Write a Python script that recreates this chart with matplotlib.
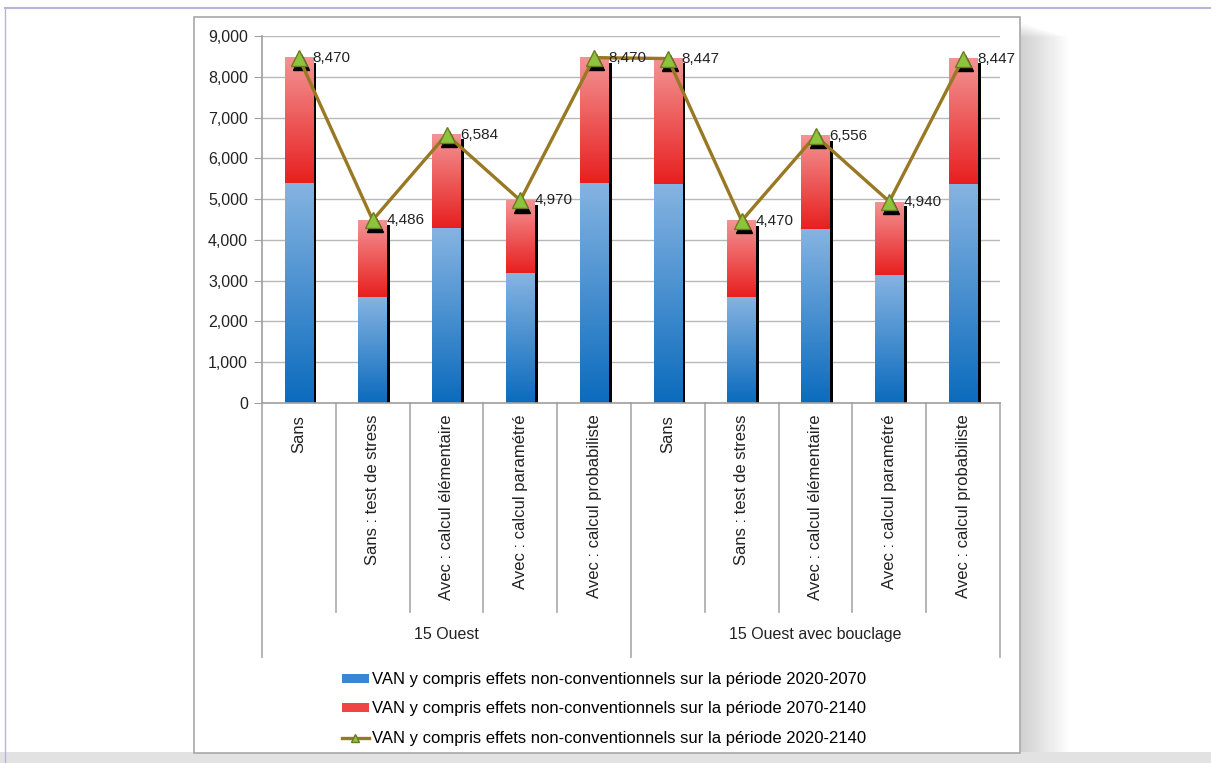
import numpy as np
import matplotlib
matplotlib.use("Agg")
import matplotlib.pyplot as plt
import matplotlib.transforms as mtransforms
from matplotlib.patches import Rectangle, Patch
from matplotlib.lines import Line2D
from matplotlib.colors import LinearSegmentedColormap

plt.rcParams['font.family'] = ['Liberation Sans', 'DejaVu Sans']

# données
categories = ["Sans", "Sans : test de stress", "Avec : calcul élémentaire",
              "Avec : calcul paramétré", "Avec : calcul probabiliste"] * 2
groups = ["15 Ouest", "15 Ouest avec bouclage"]
van_2020_2070 = [5400, 2600, 4280, 3180, 5400, 5370, 2600, 4260, 3150, 5370]
van_2020_2140 = [8470, 4486, 6584, 4970, 8470, 8447, 4470, 6556, 4940, 8447]
van_2070_2140 = [t - b for t, b in zip(van_2020_2140, van_2020_2070)]
yticks = [0, 1000, 2000, 3000, 4000, 5000, 6000, 7000, 8000, 9000]

lab1 = "VAN y compris effets non-conventionnels sur la période 2020-2070"
lab2 = "VAN y compris effets non-conventionnels sur la période 2070-2140"
lab3 = "VAN y compris effets non-conventionnels sur la période 2020-2140"

W, H = 1211, 763
fig = plt.figure(figsize=(W / 100, H / 100), dpi=100)
fig.patch.set_facecolor("white")

def fx(px):
    return px / W

def fy(py):
    return 1 - py / H

# cadre de page
fig.add_artist(Rectangle((0, 0), 1, fy(752), transform=fig.transFigure,
                         facecolor="#e2e2e2", edgecolor="none", zorder=0))
fig.add_artist(Rectangle((fx(5), fy(752)), 1, fy(8) - fy(752), transform=fig.transFigure,
                         facecolor="white", edgecolor="none", zorder=0))
fig.add_artist(Line2D([fx(5), 1], [fy(8), fy(8)], transform=fig.transFigure,
                      color="#b8b4d8", lw=1.5, zorder=1))
fig.add_artist(Line2D([fx(5), fx(5)], [fy(8), 0], transform=fig.transFigure,
                      color="#b8b4d8", lw=1.0, zorder=1))

# ombre douce et cadre du graphique
for i in range(24):
    d = 1 + i * 1.6
    fig.add_artist(Rectangle((fx(194 + d * 0.3), fy(752)), fx(1020 - 194 + d), fy(22 + d * 0.4) - fy(752),
                             transform=fig.transFigure, facecolor="black", alpha=0.008,
                             edgecolor="none", zorder=1))
fig.add_artist(Rectangle((fx(194), fy(753)), fx(1020 - 194), fy(17) - fy(753),
                         transform=fig.transFigure, facecolor="white",
                         edgecolor="#a8a8a8", lw=1.2, zorder=2))

ax = fig.add_axes([fx(262), fy(403), fx(1000 - 262), fy(36) - fy(403)], zorder=3)
ax.set_facecolor("none")

x = np.arange(len(categories))
w = 0.39

# ombres noires des barres
ax.bar(x + w / 2 + 0.022, [t - 120 for t in van_2020_2140], width=0.04,
       color="black", zorder=1)

blue_bars = ax.bar(x, van_2020_2070, width=w, color="#4a90d0", zorder=2)
red_bars = ax.bar(x, van_2070_2140, width=w, bottom=van_2020_2070, color="#ee5555", zorder=2)

blue_cmap = LinearSegmentedColormap.from_list("b", ["#0b6bbd", "#86b4e2"])
red_cmap = LinearSegmentedColormap.from_list("r", ["#e81f1f", "#f39494"])
grad = np.linspace(0, 1, 256).reshape(-1, 1)
for bars, cmap in [(blue_bars, blue_cmap), (red_bars, red_cmap)]:
    for p in bars:
        x0, y0 = p.get_x(), p.get_y()
        ax.imshow(grad, extent=[x0, x0 + p.get_width(), y0, y0 + p.get_height()],
                  origin="lower", cmap=cmap, aspect="auto", zorder=2.5,
                  interpolation="bilinear")

# courbe totale
line_color = "#997824"
ax.plot(x, van_2020_2140, color=line_color, lw=2.4, zorder=4)
shadow = mtransforms.offset_copy(ax.transData, fig=fig, x=1.5, y=-3.0, units="points")
ax.plot(x, van_2020_2140, ls="none", marker="^", ms=11, color="black",
        transform=shadow, zorder=3.5)
ax.plot(x, van_2020_2140, ls="none", marker="^", ms=11, markerfacecolor="#8cc43e",
        markeredgecolor="#6d7a22", markeredgewidth=1.0, zorder=5)
for xi, v in zip(x, van_2020_2140):
    ax.annotate(f"{v:,}", (xi, v), xytext=(10, 0), textcoords="offset points",
                ha="left", va="center", fontsize=11, color="#222222", zorder=6)

ax.set_xlim(-0.5, len(categories) - 0.5)
ax.set_ylim(0, 9000)
ax.set_yticks(yticks)
ax.set_yticklabels([f"{v:,}" for v in yticks], fontsize=11.5, color="#222222")
ax.yaxis.grid(True, color="#b8b8b8", lw=1.0)
ax.set_axisbelow(True)
ax.tick_params(axis="y", length=6, color="#a0a0a0", pad=4)
ax.set_xticks([])
for s in ["top", "right"]:
    ax.spines[s].set_visible(False)
ax.spines["left"].set_color("#a0a0a0")
ax.spines["bottom"].set_color("#a0a0a0")
ax.spines["left"].set_linewidth(1.2)
ax.spines["bottom"].set_linewidth(1.2)

# axe des catégories à deux niveaux
trans = mtransforms.blended_transform_factory(ax.transData, ax.transAxes)
for i in range(len(categories) + 1):
    xs = i - 0.5
    long = i % 5 == 0
    ax.plot([xs, xs], [0, -0.692 if long else -0.569], transform=trans,
            color="#b0b0b0", lw=1.3, clip_on=False, zorder=1)
for xi, c in zip(x, categories):
    ax.text(xi, -0.032, c, transform=trans, rotation=90, ha="center", va="top",
            fontsize=12, color="#222222")
for g, gname in enumerate(groups):
    ax.text(2 + 5 * g, -0.632, gname, transform=trans, ha="center", va="center",
            fontsize=11.5, color="#222222")

handles = [Patch(facecolor="#3a86d4", edgecolor="none"),
           Patch(facecolor="#ee4444", edgecolor="none"),
           Line2D([], [], color=line_color, lw=2.4, marker="^", ms=6,
                  markerfacecolor="#8cc43e", markeredgecolor="#6d7a22")]
fig.legend(handles, [lab1, lab2, lab3], loc="center", bbox_to_anchor=(fx(604), fy(709)),
           frameon=False, fontsize=12, handlelength=1.6, handleheight=0.4,
           handletextpad=0.2, labelspacing=0.85)

fig.savefig("out.png", dpi=100, facecolor="white")
